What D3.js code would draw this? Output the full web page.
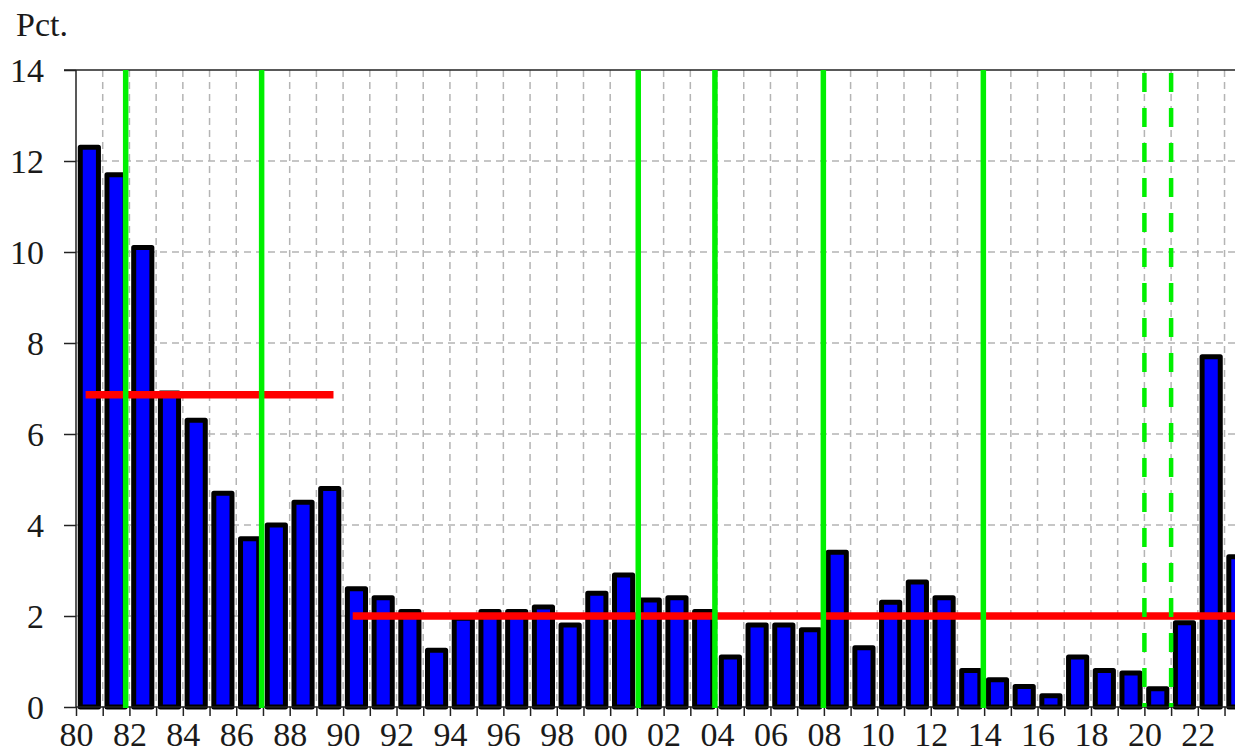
<!DOCTYPE html>
<html>
<head>
<meta charset="utf-8">
<script src="https://cdn.jsdelivr.net/npm/d3@7"></script>
<style>
body { margin: 0; background: #fff; }
svg { display: block; }
text { font-family: "Liberation Serif", "DejaVu Serif", serif; fill: #1a1a1a; }
</style>
</head>
<body>
<svg id="chart" width="1235" height="754"></svg>
<script>

// yearly values, 1980 - 2023 (pct.)
var years = d3.range(1980, 2024);
var values = [12.3, 11.7, 10.1, 6.9, 6.3, 4.7, 3.7, 4.0, 4.5, 4.8,
	2.6, 2.4, 2.1, 1.25, 1.95, 2.1, 2.1, 2.2, 1.8, 2.5,
	2.9, 2.35, 2.4, 2.1, 1.1, 1.8, 1.8, 1.7, 3.4, 1.3,
	2.3, 2.75, 2.4, 0.8, 0.6, 0.45, 0.25, 1.1, 0.8, 0.75,
	0.4, 1.85, 7.7, 3.3];

// period averages (red): start year, end year, level
var avgStart = [1980, 1990];
var avgEnd = [1989, 2023];
var avgLevel = [6.86, 2.0];

// marker dates (green), in fractional years
var markers = [1981.86, 1986.95, 2001.05, 2003.92, 2007.98, 2013.97];
var dashedMarkers = [2020.0, 2021.0];

var yTicks = [0, 2, 4, 6, 8, 10, 12, 14];

var svg = d3.select('#chart');
var plotLeft = 76, plotTop = 70, plotBottom = 707;
var step = 26.71;
var serif = '"Liberation Serif", "DejaVu Serif", serif';

var x = d3.scaleLinear()
	.domain([1980, 2024])
	.range([plotLeft, plotLeft + 44 * step]);

var y = d3.scaleLinear()
	.domain([0, 14])
	.range([plotBottom, plotTop]);

var g = svg.append('g');

// grid
g.selectAll('.hgrid')
	.data(yTicks.filter(function(d) { return d > 0 && d < 14; }))
	.enter().append('line')
	.attr('x1', plotLeft)
	.attr('x2', 1235)
	.attr('y1', function(d) { return y(d); })
	.attr('y2', function(d) { return y(d); })
	.attr('stroke', '#b4b4b4')
	.attr('stroke-width', 1.5)
	.style('stroke-dasharray', '7,5');

g.selectAll('.vgrid')
	.data(years.slice(1))
	.enter().append('line')
	.attr('x1', function(d) { return x(d); })
	.attr('x2', function(d) { return x(d); })
	.attr('y1', plotTop)
	.attr('y2', plotBottom)
	.attr('stroke', '#b4b4b4')
	.attr('stroke-width', 1.5)
	.style('stroke-dasharray', '7,5');

// bars
var barW = step * 0.68;
g.selectAll('.bar')
	.data(values)
	.enter().append('rect')
	.attr('x', function(d, i) { return x(years[i]) + (step - barW) / 2; })
	.attr('y', function(d) { return y(d); })
	.attr('width', barW)
	.attr('height', function(d) { return plotBottom - y(d); })
	.style('fill', '#0000ff')
	.attr('stroke', '#000')
	.attr('stroke-width', 5)
	.attr('stroke-linejoin', 'round');

// axes
var yAxis = d3.axisLeft(y)
	.tickValues(yTicks)
	.tickSize(12)
	.tickPadding(8);

var ya = svg.append('g')
	.attr('transform', 'translate(' + plotLeft + ',0)')
	.call(yAxis)
	.attr('font-family', serif);
ya.select('.domain').remove();
ya.selectAll('line').attr('stroke', '#222').attr('stroke-width', 1.5);
ya.selectAll('text')
	.style('font-family', serif)
	.style('font-size', '34px')
	.attr('dy', '0.34em')
	.attr('x', -32)
	.style('fill', '#1a1a1a');

var xAxis = d3.axisBottom(x)
	.tickValues(years)
	.tickSize(9)
	.tickPadding(6)
	.tickFormat(function(d) { return d % 2 === 0 ? d3.format('02d')(d % 100) : ''; });

var xa = svg.append('g')
	.attr('transform', 'translate(0,' + plotBottom + ')')
	.call(xAxis)
	.attr('font-family', serif);
xa.select('.domain').remove();
xa.selectAll('line').attr('stroke', '#222').attr('stroke-width', 1.5);
xa.selectAll('text')
	.style('font-family', serif)
	.style('font-size', '34px')
	.attr('dy', '0.7em')
	.style('fill', '#1a1a1a');

// frame lines
svg.append('line') // left
	.attr('x1', plotLeft).attr('x2', plotLeft)
	.attr('y1', plotTop).attr('y2', plotBottom)
	.attr('stroke', '#222').attr('stroke-width', 1.5);
svg.append('line') // top
	.attr('x1', plotLeft - 12).attr('x2', 1235)
	.attr('y1', plotTop).attr('y2', plotTop)
	.attr('stroke', '#222').attr('stroke-width', 1.5);
svg.append('line') // baseline
	.attr('x1', plotLeft).attr('x2', 1235)
	.attr('y1', plotBottom).attr('y2', plotBottom)
	.attr('stroke', '#222').attr('stroke-width', 1.5);

// red averages
g.selectAll('.avg')
	.data(avgLevel)
	.enter().append('line')
	.attr('x1', function(d, i) { return x(avgStart[i] + 0.5); })
	.attr('x2', function(d, i) { return x(avgEnd[i] + 0.5); })
	.attr('y1', function(d) { return y(d); })
	.attr('y2', function(d) { return y(d); })
	.attr('stroke', '#ff0000')
	.attr('stroke-width', 7.5)
	.attr('stroke-linecap', 'square');

// green markers
svg.selectAll('.mark')
	.data(markers)
	.enter().append('line')
	.attr('x1', function(d) { return x(d); })
	.attr('x2', function(d) { return x(d); })
	.attr('y1', plotTop)
	.attr('y2', plotBottom + 1)
	.attr('stroke', '#00f000')
	.attr('stroke-width', 5.5);

svg.selectAll('.dmark')
	.data(dashedMarkers)
	.enter().append('line')
	.attr('x1', function(d) { return x(d); })
	.attr('x2', function(d) { return x(d); })
	.attr('y1', plotTop + 3)
	.attr('y2', plotBottom)
	.attr('stroke', '#00f000')
	.attr('stroke-width', 4.5)
	.style('stroke-dasharray', '19,16');

// unit label
svg.append('text')
	.attr('x', 16)
	.attr('y', 36)
	.text('Pct.')
	.style('font-family', serif)
	.style('font-size', '34px');

</script>
</body>
</html>
